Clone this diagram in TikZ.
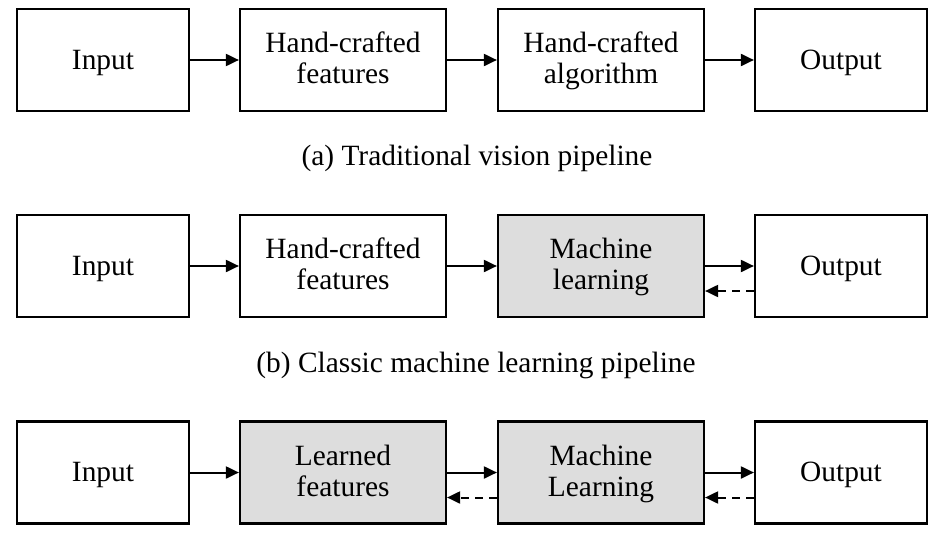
\documentclass[tikz,border=0pt]{standalone}
\usepackage{fontspec}
\setmainfont{Liberation Serif}
\usetikzlibrary{arrows.meta}
\definecolor{boxgray}{HTML}{DDDDDD}
\begin{document}
\begin{tikzpicture}[x=1pt,y=-1pt,
  every node/.style={font=\fontsize{29.4}{31}\selectfont},
  stagebox/.style={draw=black,line width=2.2pt,align=center,minimum height=102pt,inner sep=0pt,fill=white},
  oneline/.style={text height=21pt,text depth=3pt},
  twoline/.style={text height=51pt,text depth=4pt},
  narrowbox/.style={stagebox,minimum width=172pt,oneline},
  widebox/.style={stagebox,minimum width=206pt,twoline},
  graybox/.style={fill=boxgray},
  fwd/.style={line width=2pt,-{Triangle[length=13pt,width=12pt]}},
  back/.style={line width=2pt,dash pattern=on 8pt off 6pt,-{Triangle[length=13pt,width=12pt]}},
  caption/.style={inner sep=0pt}]
\useasboundingbox (0,0) rectangle (942,538);
% row a
\node[narrowbox] (a1) at (103,60) {Input};
\node[widebox] (a2) at (343,60) {Hand-crafted\\features};
\node[widebox] (a3) at (601,60) {Hand-crafted\\algorithm};
\node[narrowbox] (a4) at (841,60) {Output};
\draw[fwd] (a1) -- (a2);
\draw[fwd] (a2) -- (a3);
\draw[fwd] (a3) -- (a4);
\node[caption] (ca) at (477,158) {(a) Traditional vision pipeline};
% row b
\node[narrowbox] (b1) at (103,266) {Input};
\node[widebox] (b2) at (343,266) {Hand-crafted\\features};
\node[widebox,graybox] (b3) at (601,266) {Machine\\learning};
\node[narrowbox] (b4) at (841,266) {Output};
\draw[fwd] (b1) -- (b2);
\draw[fwd] (b2) -- (b3);
\draw[fwd] (b3) -- (b4);
\draw[back] ([yshift=-25pt]b4.west) -- ([yshift=-25pt]b3.east);
\node[caption] (cb) at (476,365) {(b) Classic machine learning pipeline};
% row c
\node[narrowbox] (c1) at (103,472.5) {Input};
\node[widebox,graybox] (c2) at (343,472.5) {Learned\\features};
\node[widebox,graybox] (c3) at (601,472.5) {Machine\\Learning};
\node[narrowbox] (c4) at (841,472.5) {Output};
\draw[fwd] (c1) -- (c2);
\draw[fwd] (c2) -- (c3);
\draw[fwd] (c3) -- (c4);
\draw[back] ([yshift=-25pt]c3.west) -- ([yshift=-25pt]c2.east);
\draw[back] ([yshift=-25pt]c4.west) -- ([yshift=-25pt]c3.east);
\end{tikzpicture}
\end{document}
